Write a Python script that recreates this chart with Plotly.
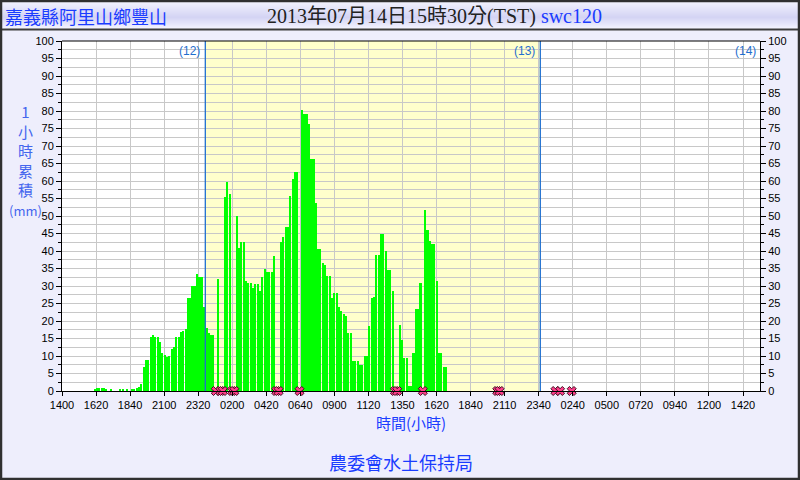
import pandas as pd
import plotly.graph_objects as go

# ---------------- data (10-minute slots, 1-hour accumulated rain, mm; None = missing) ----------------
slot_start = "2013-07-12 16:00"
rain_d12 = [
    0.5, 1.0, 1.0, 1.0, 1.0, 0.6,        # 16h
    0, 0.5, 0, 0, 0, 0.6,                # 17h
    0.6, 0, 0.6, 0, 0.6, 0.6,            # 18h
    0.8, 1.2, 2.0, 6.9, 8.9, 8.9,        # 19h
    15.3, 16.0, 15.4, 15.4, 14.0, 11.0,  # 20h
    10.2, 9.8, 10.0, 12.0, 12.5, 15.5,   # 21h
    15.5, 16.8, 17.2, 17.6, 26.7, 26.7,  # 22h
    30.0, 30.0, 33.4, 32.7, 32.7, 24.0,  # 23h
]
rain_d13 = [
    18.0, 16.6, 16.0, 16.0, None, 32.1,  # 0h
    None, None, 55.3, 59.6, 56.2, None,  # 1h
    None, 50.1, 40.8, 42.7, 42.7, 31.4,  # 2h
    30.8, 30.8, 29.4, 30.7, 30.7, 28.7,  # 3h
    32.7, 35.0, 34.1, 34.1, 34.1, 38.7,  # 4h
    None, None, 42.7, 44.1, 47.0, 47.0,  # 5h
    55.6, 60.7, 62.7, 62.7, None, 80.2,  # 6h
    79.1, 79.1, 76.2, 66.2, 66.2, 53.6,  # 7h
    40.7, 40.7, 36.7, 36.1, 33.0, 33.0,  # 8h
    26.7, 28.1, 28.1, 24.1, 22.9, 22.1,  # 9h
    21.5, 16.6, 16.6, 8.6, 8.6, 8.6,     # 10h
    7.4, 7.4, 10.0, 10.0, 18.6, 26.6,    # 11h
    27.0, 39.0, 39.0, 45.0, 45.0, 40.1,  # 12h
    34.7, 34.7, 28.7, None, None, 18.9,  # 13h
    14.6, 9.5, 9.5, 1.4, 1.4, 10.9,      # 14h
    23.5, 23.5, 30.9, None, 51.6, 46.1,  # 15h
    43.0, 42.1, 42.1, 31.5, 10.9, 10.9,  # 16h
    6.9, 6.9, 0, 0, 0, 0,                # 17h
    0, 0, 0, 0, 0, 0,                    # 18h
    0, 0, 0, 0, 0, 0,                    # 19h
    0, 0, 0, 0, 0, None,                 # 20h
    None, 0, 0, 0, 0, 0,                 # 21h
    0, 0, 0, 0, 0, 0,                    # 22h
    0, 0, 0, 0, 0, 0,                    # 23h
]
rain_d14 = [
    0, 0, 0, 0, 0, 0,                    # 0h
    None, 0, None, 0, 0, 0,              # 1h
    0, None, 0, 0, 0, 0,                 # 2h
]
day_starts = ["2013-07-13 00:00", "2013-07-14 00:00"]
day_labels = ["(12)", "(13)", "(14)"]
tick_labels = ["1400", "1620", "1840", "2100", "2320", "0200", "0420", "0640", "0900",
               "1120", "1350", "1620", "1840", "2110", "2340", "0240", "0500", "0720",
               "0940", "1200", "1420"]
station = "嘉義縣阿里山鄉豐山"
stamp = "2013年07月14日15時30分(TST)"
station_id = "swc120"
y_title = ["1", "小", "時", "累", "積", "<span style='font-size:13px'>(mm)</span>"]
x_title = "時間(小時)"
footer = "農委會水土保持局"

# ---------------- geometry ----------------
W, H = 800, 480
ML, MR, MT, MB = 62, 40, 41, 89
PW, PH = W - ML - MR, H - MT - MB


def px_x(x):
    return (x - ML) / PW


def px_y(y):
    return (H - MB - y) / PH


rain = rain_d12 + rain_d13 + rain_d14
t0 = pd.Timestamp(slot_start)
centers = [t0 + pd.Timedelta(minutes=10 * i + 5) for i in range(len(rain))]
missing = [c for c, v in zip(centers, rain) if v is None]

origin = pd.Timestamp(day_starts[0])
hours_per_px = 1 / 13.958
x_left = origin - pd.Timedelta(hours=10.267)
x_right = x_left + pd.Timedelta(hours=PW * hours_per_px)
tick_step = pd.Timedelta(hours=34.05 * hours_per_px)
tickvals = [x_left + i * tick_step for i in range(len(tick_labels))]

fmt = "%Y-%m-%d %H:%M:%S"
GRID = "#c8c8c8"
BLUE = "#1a3cff"
DAYBLUE = "#1f6fcf"

fig = go.Figure()
fig.add_trace(go.Bar(
    x=[c.strftime(fmt) for c in centers], y=rain,
    width=600000 * 0.88, marker=dict(color="#00ff00", line=dict(width=0)),
    showlegend=False, hoverinfo="skip"))
fig.add_trace(go.Scatter(
    x=[c.strftime(fmt) for c in missing], y=[0] * len(missing), mode="markers",
    marker=dict(symbol="x", size=8, color="#ff3d8b", line=dict(color="#401020", width=1)),
    cliponaxis=False, showlegend=False, hoverinfo="skip"))
fig.add_trace(go.Scatter(x=[x_left.strftime(fmt)], y=[0], yaxis="y2", mode="markers",
                         marker=dict(opacity=0), showlegend=False, hoverinfo="skip"))

shapes = []
# title band gradient
top_c, mid_c, bot_c = (246, 246, 255), (212, 212, 244), (244, 244, 255)
for r in range(0, 29):
    f = r / 28
    if f < 0.6:
        a, b, g = top_c, mid_c, f / 0.6
    else:
        a, b, g = mid_c, bot_c, (f - 0.6) / 0.4
    col = "rgb(%d,%d,%d)" % tuple(int(a[j] + (b[j] - a[j]) * g) for j in range(3))
    shapes.append(dict(type="rect", xref="paper", yref="paper", x0=px_x(0), x1=px_x(W),
                       y0=px_y(r + 1), y1=px_y(r), fillcolor=col, line=dict(width=0), layer="below"))
shapes.append(dict(type="line", xref="paper", yref="paper", x0=px_x(0), x1=px_x(W),
                   y0=px_y(29.5), y1=px_y(29.5), line=dict(color="#3c3c3c", width=2)))
# day 13 shading
shapes.append(dict(type="rect", xref="x", yref="paper", x0=day_starts[0], x1=day_starts[1],
                   y0=0, y1=1, fillcolor="#ffffcc", line=dict(width=0), layer="below"))
for d in day_starts:
    shapes.append(dict(type="line", xref="x", yref="paper", x0=d, x1=d, y0=0, y1=1,
                       line=dict(color=DAYBLUE, width=1.3), layer="above"))
# plot top border
shapes.append(dict(type="line", xref="paper", yref="paper", x0=0, x1=1, y0=1, y1=1,
                   line=dict(color="black", width=1)))
# outer frame
shapes.append(dict(type="rect", xref="paper", yref="paper", x0=px_x(1), x1=px_x(W - 1),
                   y0=px_y(H - 1), y1=px_y(1), line=dict(color="#303030", width=2.5)))

ann = []
ann.append(dict(text=station, xref="paper", yref="paper", x=px_x(3), y=px_y(16),
                xanchor="left", yanchor="middle", showarrow=False,
                font=dict(family="Noto Sans CJK TC", size=18, color=BLUE)))
ann.append(dict(text=stamp + " <span style='color:%s'>%s</span>" % (BLUE, station_id),
                xref="paper", yref="paper", x=px_x(265), y=px_y(16),
                xanchor="left", yanchor="middle", showarrow=False,
                font=dict(family="Liberation Serif, Noto Sans CJK TC", size=20, color="#222222")))
ann.append(dict(text="<br>".join(y_title), xref="paper", yref="paper", x=px_x(25), y=px_y(160),
                xanchor="center", yanchor="middle", showarrow=False,
                font=dict(family="Noto Sans CJK TC", size=15, color="#4466ee")))
ann.append(dict(text=x_title, xref="paper", yref="paper", x=px_x(411), y=px_y(422),
                xanchor="center", yanchor="middle", showarrow=False,
                font=dict(family="Noto Sans CJK TC", size=15, color=BLUE)))
ann.append(dict(text=footer, xref="paper", yref="paper", x=px_x(401), y=px_y(462),
                xanchor="center", yanchor="middle", showarrow=False,
                font=dict(family="Noto Sans CJK TC", size=18, color=BLUE)))
for d, lab in zip(day_starts, day_labels[:2]):
    ann.append(dict(text=lab, xref="x", yref="paper", x=d, y=px_y(51), xanchor="right",
                    yanchor="middle", xshift=-3, showarrow=False,
                    font=dict(family="Liberation Sans", size=12, color=DAYBLUE)))
ann.append(dict(text=day_labels[2], xref="paper", yref="paper", x=1, y=px_y(51), xanchor="right",
                yanchor="middle", xshift=-2, showarrow=False,
                font=dict(family="Liberation Sans", size=12, color=DAYBLUE)))

tickfont = dict(family="Liberation Sans, Arial", size=11, color="black")
yax = dict(range=[0, 100], dtick=5, tick0=0, ticks="outside", ticklen=5, tickcolor="black",
           showline=True, linecolor="black", linewidth=1, tickfont=tickfont, zeroline=False,
           fixedrange=True)

fig.update_layout(
    width=W, height=H, autosize=False,
    margin=dict(l=ML, r=MR, t=MT, b=MB, autoexpand=False),
    paper_bgcolor="#eeeefc", plot_bgcolor="white",
    bargap=0, showlegend=False,
    xaxis=dict(type="date", range=[x_left.strftime(fmt), x_right.strftime(fmt)],
               tickmode="array", tickvals=[t.strftime(fmt) for t in tickvals], ticktext=tick_labels,
               ticks="outside", ticklen=4, tickcolor="black", showgrid=True, gridcolor=GRID,
               gridwidth=1, showline=True, linecolor="black", linewidth=1, tickfont=tickfont,
               zeroline=False, fixedrange=True),
    yaxis=dict(**yax, side="left", showgrid=True, gridcolor=GRID, gridwidth=1,
               minor=dict(dtick=2.5, ticks="outside", ticklen=3, tickcolor="black",
                          showgrid=True, gridcolor=GRID, gridwidth=1)),
    yaxis2=dict(**yax, side="right", overlaying="y", showgrid=False,
                minor=dict(dtick=2.5, ticks="outside", ticklen=3, tickcolor="black", showgrid=False)),
    shapes=shapes, annotations=ann,
)

fig.write_html("out.html", config={"displayModeBar": False},
               post_script="document.body.style.margin='0';document.body.style.overflow='hidden';")
